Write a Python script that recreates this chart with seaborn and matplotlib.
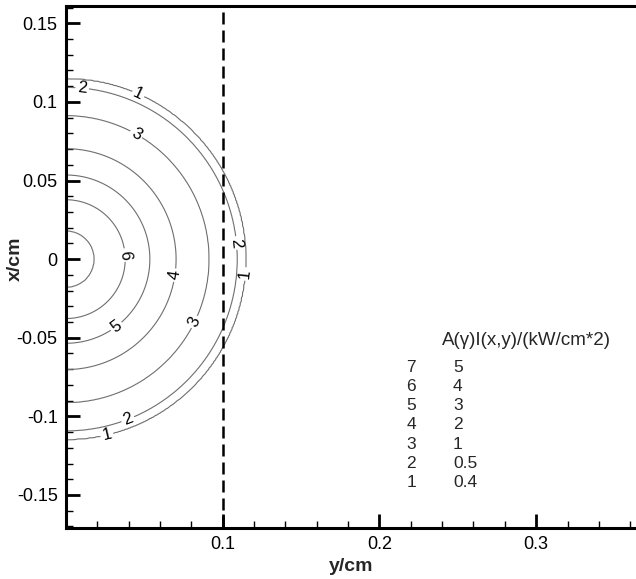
import numpy as np
import matplotlib
matplotlib.use('Agg')
import matplotlib.pyplot as plt
from matplotlib.ticker import MultipleLocator, FixedLocator, FuncFormatter
import seaborn as sns

# ============================================================
# DATA
# ============================================================
level_ids = [1, 2, 3, 4, 5, 6, 7]
level_values = [0.4, 0.5, 1, 2, 3, 4, 5]
# radius (cm) at which each level's contour sits
level_radius = [0.1146, 0.1092, 0.0912, 0.0702, 0.0535, 0.0378, 0.0180]
peak_value = 5.33          # intensity at the centre
tail_radius = 0.30         # where the field falls to zero
boundary_y = 0.1           # dashed boundary line
legend_title = 'A(\u03b3)I(x,y)/(kW/cm*2)'

x_ticks = [0.1, 0.2, 0.3]
y_ticks = [-0.15, -0.1, -0.05, 0, 0.05, 0.1, 0.15]

# ============================================================
# STYLE
# ============================================================
sns.set_theme(style='ticks')
plt.rcParams['font.family'] = ['Liberation Sans', 'DejaVu Sans']
plt.rcParams['axes.unicode_minus'] = False

W, H = 636, 579
fig = plt.figure(figsize=(W / 100, H / 100), dpi=100)
ax = fig.add_axes([66 / W, (H - 528) / H, (W - 66) / W, (528 - 6) / H])

# ============================================================
# FIELD from the read radii
# ============================================================
gx = np.linspace(0, 0.37, 500)
gy = np.linspace(-0.175, 0.165, 500)
YY, XX = np.meshgrid(gx, gy)
rr = np.sqrt(YY ** 2 + XX ** 2)
r_pts = [0.0] + level_radius[::-1] + [tail_radius]
v_pts = [peak_value] + level_values[::-1] + [0.0]
field = np.interp(rr, r_pts, v_pts)

cs = ax.contour(YY, XX, field, levels=level_values,
                colors='#6e6e6e', linewidths=0.8)

label_spots = [(0.0102, 0.1076), (0.046, 0.1038), (0.0446, 0.079),
               (0.0363, 0.0025), (0.1076, 0.0102), (0.113, -0.009),
               (0.0694, -0.0102), (0.0325, -0.0433), (0.082, -0.040),
               (0.0395, -0.102), (0.026, -0.111)]
fmt = {v: str(i) for v, i in zip(level_values, level_ids)}
ax.clabel(cs, fmt=fmt, fontsize=12, colors='black', inline=True,
          inline_spacing=2, manual=label_spots)

ax.axvline(boundary_y, color='black', lw=1.8, linestyle=(0, (4.8, 2.4)))

# legend-like table
ax.text(0.240, -0.0516, legend_title, fontsize=13.5, va='center', ha='left')
for k, (i, v) in enumerate(zip(level_ids[::-1], level_values[::-1])):
    yy = -0.0688 - k * 0.01223
    ax.text(0.2204, yy, str(i), fontsize=12.5, va='center', ha='center')
    ax.text(0.247, yy, f'{v:g}', fontsize=12.5, va='center', ha='left')

# ============================================================
# AXES
# ============================================================
ax.set_xlim(0, 0.3637)
ax.set_ylim(-0.171, 0.161)
ax.xaxis.set_major_locator(FixedLocator(x_ticks))
ax.xaxis.set_minor_locator(MultipleLocator(0.02))
ax.yaxis.set_major_locator(FixedLocator(y_ticks))
ax.yaxis.set_minor_locator(MultipleLocator(0.01))
ax.xaxis.set_major_formatter(FuncFormatter(lambda v, p: f'{v:g}'))
ax.yaxis.set_major_formatter(FuncFormatter(lambda v, p: f'{round(v, 3):g}'))

ax.tick_params(which='major', direction='in', length=10, width=2,
               labelsize=13, pad=6, color='black', labelcolor='black')
ax.tick_params(which='minor', direction='in', length=5, width=1,
               color='black')
for side in ['left', 'top', 'bottom']:
    ax.spines[side].set_linewidth(2.2)
    ax.spines[side].set_color('black')
ax.spines['right'].set_visible(False)

ax.set_xlabel('y/cm', fontsize=14, fontweight='bold')
ax.set_ylabel('x/cm', fontsize=14, fontweight='bold')
ax.xaxis.set_label_coords(0.5, -0.057)
ax.yaxis.set_label_coords(-0.074, 0.515)

fig.savefig('out.png', dpi=100)
